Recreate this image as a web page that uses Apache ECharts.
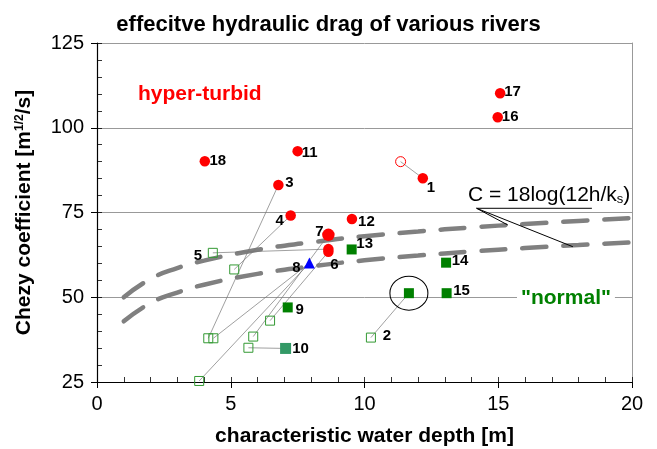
<!DOCTYPE html>
<html><head><meta charset="utf-8">
<script src="https://cdn.jsdelivr.net/npm/echarts/dist/echarts.min.js"></script>
<style>html,body{margin:0;padding:0;background:#fff}#c{width:657px;height:449px}</style>
</head><body><div id="c"></div>
<script>
const FONT = '"Liberation Sans", Arial, Helvetica, sans-serif';

// hyper-turbid rivers (filled red circles)
const redIds    = ['1',   '3',  '4',  '6a', '6b', '7',  '11', '12', '16',  '17',  '18'];
const redLabels = ['1',   '3',  '4',  '',   '6',  '7',  '11', '12', '16',  '17',  '18'];
const redX      = [12.18, 6.78, 7.24, 8.65, 8.65, 8.65, 7.50, 9.53, 14.98, 15.07, 4.03];
const redY      = [85.1,  83.1, 74.1, 64.2, 63.4, 68.4, 93.1, 73.1, 103.1, 110.2, 90.1];

// alternative estimate (open red circle)
const redOpenIds = ['1o'];
const redOpenX   = [11.35];
const redOpenY   = [90.0];

// blue triangle
const blueIds    = ['8'];
const blueLabels = ['8'];
const blueX      = [7.94];
const blueY      = [60.1];

// "normal" rivers (filled green squares)
const greenIds    = ['9',  '13', '14',  '15',  'c'];
const greenLabels = ['9',  '13', '14',  '15',  ''];
const greenX      = [7.13, 9.52, 13.05, 13.07, 11.66];
const greenY      = [47.0, 64.1, 60.2,  51.2,  51.2];

// teal square
const tealIds    = ['10'];
const tealLabels = ['10'];
const tealX      = [7.05];
const tealY      = [34.9];

// open green squares
const openIds    = ['5',  '2',   'a',  'b',  'c2', 'd',  'e',  'f',  'g'];
const openLabels = ['5',  '2',   '',   '',   '',   '',   '',   '',   ''];
const openX      = [4.33, 10.24, 5.13, 4.16, 4.35, 5.84, 5.66, 6.47, 3.82];
const openY      = [63.1, 38.1,  58.2, 37.9, 37.9, 38.4, 35.1, 43.1, 25.3];

// thin connectors between estimates
const links = [['1o','1'],['2','c'],['b','3'],['a','4'],['5','6a'],['c2','8'],['g','8'],['d','7'],['f','6b'],['e','10']];

// C = 18 log(12h/ks) curves
const curveH     = [1,    2,    3,    4,    6,    8,    10,   12,   14,   16,   18,   20];
const curveUpper = [50.0, 55.4, 58.6, 60.8, 64.0, 66.2, 68.0, 69.4, 70.6, 71.6, 72.5, 73.4];
const curveLower = [42.9, 48.3, 51.4, 53.7, 56.9, 59.1, 60.9, 62.3, 63.5, 64.5, 65.4, 66.2];

// annotation leader lines (data coords)
const leaderA = [[18.5, 76.24], [14.19, 76.24], [15.36, 71.3]];
const leaderB = [[14.19, 76.24], [17.79, 64.9]];

// label offsets (layout)
const labelOffset = {
  '1':[8,10],'2':[16,-2],'3':[11,-2],'4':[-11,5],'5':[-15,3],'6':[6,13],'7':[-9,-3],'8':[-13,5],
  '9':[12,2],'10':[15,0],'11':[12,1.5],'12':[14.5,2.5],'13':[13,-6],'14':[14,-2],'15':[15,-2],
  '16':[12.5,0],'17':[12.5,-1.5],'18':[13,0]
};

const pos = {};
function reg(ids, xs, ys){ ids.forEach((id,i)=>{ pos[id]=[xs[i],ys[i]]; }); }
reg(redIds, redX, redY); reg(redOpenIds, redOpenX, redOpenY); reg(blueIds, blueX, blueY);
reg(greenIds, greenX, greenY); reg(tealIds, tealX, tealY); reg(openIds, openX, openY);

function items(ids, xs, ys, labels){
  return ids.map((id,i)=>{
    const lab = labels ? labels[i] : '';
    const o = {value:[xs[i],ys[i]], name: lab, id: id};
    if (lab && labelOffset[lab]) o.label = {offset: labelOffset[lab]};
    return o;
  });
}
const labelBase = {show:true, position:'inside', formatter:'{b}', color:'#000', fontFamily:FONT,
  fontWeight:'bold', fontSize:15, textBorderWidth:0, textBorderColor:'transparent', opacity:1};

const series = [];
// curves
[curveUpper, curveLower].forEach(c=>{
  series.push({type:'line', smooth:true, symbol:'none', silent:true, z:2,
    data: curveH.map((h,i)=>[h,c[i]]),
    lineStyle:{color:'#808080', width:4.5, type:[24,17], cap:'round', opacity:1}});
});
// links
links.forEach(l=>{
  series.push({type:'line', symbol:'none', silent:true, z:3,
    data:[pos[l[0]], pos[l[1]]], lineStyle:{color:'#777', width:0.7, opacity:1}});
});
// leaders
[leaderA, leaderB].forEach(d=>{
  series.push({type:'line', symbol:'none', silent:true, z:3, data:d, lineStyle:{color:'#000', width:1, opacity:1}});
});
// ellipse around circled point
series.push({type:'scatter', symbol:'circle', symbolSize:[38,34], silent:true, z:4,
  data:[pos['c']], itemStyle:{color:'rgba(0,0,0,0)', borderColor:'#000', borderWidth:1, opacity:1}});
// open squares
series.push({type:'scatter', symbol:'rect', symbolSize:9, z:5,
  data: items(openIds, openX, openY, openLabels),
  itemStyle:{color:'rgba(0,0,0,0)', borderColor:'#339933', borderWidth:1, opacity:1}, label:labelBase});
// open red circle
series.push({type:'scatter', symbol:'circle', symbolSize:10, z:5,
  data: items(redOpenIds, redOpenX, redOpenY),
  itemStyle:{color:'rgba(0,0,0,0)', borderColor:'#ff0000', borderWidth:1, opacity:1}});
// green filled
series.push({type:'scatter', symbol:'rect', symbolSize:10, z:5,
  data: items(greenIds, greenX, greenY, greenLabels),
  itemStyle:{color:'#008000', opacity:1}, label:labelBase});
// teal
series.push({type:'scatter', symbol:'rect', symbolSize:11, z:5,
  data: items(tealIds, tealX, tealY, tealLabels),
  itemStyle:{color:'#339966', opacity:1}, label:labelBase});
// blue triangle
series.push({type:'scatter', symbol:'triangle', symbolSize:11, z:5,
  data: items(blueIds, blueX, blueY, blueLabels),
  itemStyle:{color:'#0000ff', opacity:1}, label:labelBase});
// red circles
series.push({type:'scatter', symbol:'circle', z:6,
  symbolSize: (v, p) => p.data.id === '7' ? 12.5 : 10.5,
  data: items(redIds, redX, redY, redLabels),
  itemStyle:{color:'#ff0000', opacity:1}, label:labelBase});

const axisLbl = {color:'#000', fontFamily:FONT, fontSize:20};
const option = {
  animation:false,
  backgroundColor:'#fff',
  title:{text:'effecitve hydraulic drag of various rivers', left:'center', top:9,
    textStyle:{fontFamily:FONT, fontWeight:'bold', fontSize:22, color:'#000'}},
  grid:[
    {left:97, right:25, top:43, bottom:67, containLabel:false, outerBoundsMode:'none'},
    {left:97, right:25, top:43, bottom:67, containLabel:false, outerBoundsMode:'none'}
  ],
  xAxis:[
    {type:'value', gridIndex:0, min:0, max:20, interval:5,
     name:'characteristic water depth [m]', nameLocation:'middle', nameGap:44,
     nameTextStyle:{fontFamily:FONT, fontWeight:'bold', fontSize:21, color:'#000'},
     axisLine:{lineStyle:{color:'#000', width:1.2}}, axisTick:{length:6, lineStyle:{color:'#000'}},
     axisLabel:Object.assign({margin:12}, axisLbl), splitLine:{show:false}},
    {type:'value', gridIndex:1, min:0, max:20, interval:1,
     axisLine:{show:false}, axisTick:{inside:true, length:5, lineStyle:{color:'#000', width:0.8}},
     axisLabel:{show:false}, splitLine:{show:false}}
  ],
  yAxis:[
    {type:'value', gridIndex:0, min:25, max:125, interval:25,
     name:'{a|Chezy coefficient [m}{s|1/2}{a|/s]}', nameLocation:'middle', nameGap:62,
     nameTextStyle:{rich:{
       a:{fontFamily:FONT, fontWeight:'bold', fontSize:21, color:'#000'},
       s:{fontFamily:FONT, fontWeight:'bold', fontSize:12, color:'#000', verticalAlign:'top', lineHeight:12}}},
     axisLine:{lineStyle:{color:'#000', width:1.2}}, axisTick:{length:6, lineStyle:{color:'#000'}},
     axisLabel:Object.assign({margin:13}, axisLbl),
     splitLine:{show:true, lineStyle:{color:'#999', width:1}}},
    {type:'value', gridIndex:1, min:25, max:125, interval:5, position:'left',
     axisLine:{show:false}, axisTick:{inside:true, length:5, lineStyle:{color:'#000', width:0.8}},
     axisLabel:{show:false}, splitLine:{show:false}},
    {type:'value', gridIndex:1, min:25, max:125, interval:25, position:'right',
     axisLine:{show:true, lineStyle:{color:'#999', width:1}}, axisTick:{show:false},
     axisLabel:{show:false}, splitLine:{show:false}}
  ],
  graphic:[
    {type:'text', left:138, top:84, z:10, style:{text:'hyper-turbid', fill:'#ff0000',
      font:'bold 21px ' + FONT}},
    {type:'text', left:517, top:287, z:10, style:{text:'"normal"', fill:'#008000',
      font:'bold 21px ' + FONT, backgroundColor:'#fff', padding:[1,4,1,4]}},
    {type:'text', left:468, top:185, z:10, style:{rich:{
        a:{fontFamily:FONT, fontSize:21, fill:'#000'},
        s:{fontFamily:FONT, fontSize:13, fill:'#000', verticalAlign:'bottom', padding:[8,0,0,0]}},
      text:'{a|C = 18log(12h/k}{s|s}{a|)}'}}
  ],
  series: series
};
const chart = echarts.init(document.getElementById('c'), null, {renderer:'canvas'});
chart.setOption(option);
</script>
</body></html>
